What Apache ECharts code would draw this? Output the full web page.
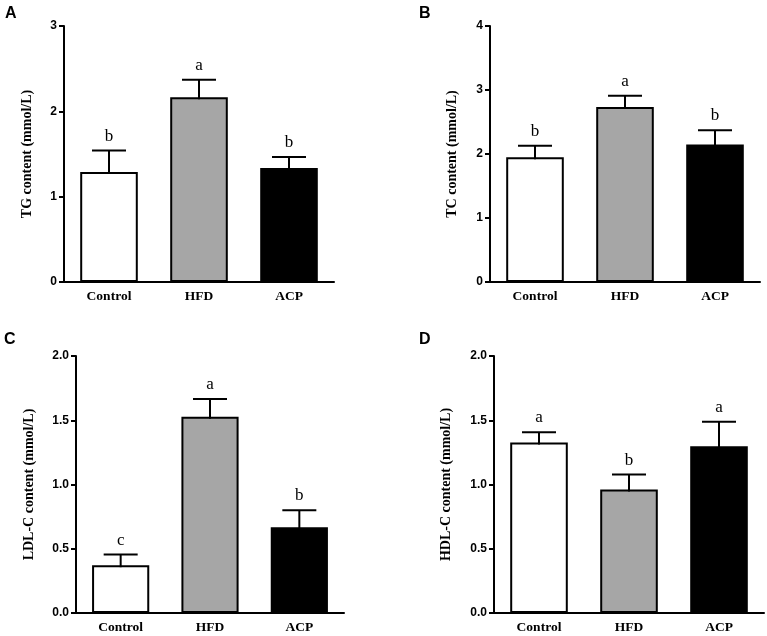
<!DOCTYPE html>
<html>
<head>
<meta charset="utf-8">
<script src="https://cdn.jsdelivr.net/npm/echarts@6/dist/echarts.min.js"></script>
<style>
html,body{margin:0;padding:0;background:#fff;}
#c{width:767px;height:636px;}
</style>
</head>
<body>
<div id="c"></div>
<script>
const categories = ['Control', 'HFD', 'ACP'];
const barColors = ['#ffffff', '#a6a6a6', '#000000'];

const tgMean = [1.29, 2.165, 1.335];
const tgErr = [0.25, 0.205, 0.13];
const tgLetters = ['b', 'a', 'b'];

const tcMean = [1.95, 2.735, 2.15];
const tcErr = [0.18, 0.175, 0.22];
const tcLetters = ['b', 'a', 'b'];

const ldlMean = [0.372, 1.527, 0.668];
const ldlErr = [0.083, 0.138, 0.132];
const ldlLetters = ['c', 'a', 'b'];

const hdlMean = [1.326, 0.962, 1.298];
const hdlErr = [0.081, 0.115, 0.19];
const hdlLetters = ['a', 'b', 'a'];

const panelTitles = ['A', 'B', 'C', 'D'];
const yNames = ['TG content (mmol/L)', 'TC content (mmol/L)', 'LDL-C content (mmol/L)', 'HDL-C content (mmol/L)'];
const yMax = [3, 4, 2, 2];
const yInterval = [1, 1, 0.5, 0.5];
const yDecimals = [0, 0, 1, 1];

const panels = [
  {mean: tgMean, err: tgErr, letters: tgLetters},
  {mean: tcMean, err: tcErr, letters: tcLetters},
  {mean: ldlMean, err: ldlErr, letters: ldlLetters},
  {mean: hdlMean, err: hdlErr, letters: hdlLetters}
];

const gridLayout = [
  {left: 64, top: 26, width: 270, height: 256},
  {left: 490, top: 26, width: 270, height: 256},
  {left: 76, top: 356, width: 268, height: 257},
  {left: 494, top: 356, width: 270, height: 257}
];
const nameGaps = [30, 31, 40, 41];
const titlePos = [[5, 6], [419, 6], [4, 332], [419, 332]];

const SANS = '"Liberation Sans", Arial, sans-serif';
const SERIF = '"Liberation Serif", "Times New Roman", serif';

const grids = [], xAxes = [], yAxes = [], series = [], titles = [];

panels.forEach((p, i) => {
  grids.push(Object.assign({containLabel: false}, gridLayout[i]));
  titles.push({
    text: panelTitles[i], left: titlePos[i][0], top: titlePos[i][1], padding: 0,
    textStyle: {fontFamily: SANS, fontWeight: 'bold', fontSize: 16, color: '#000'}
  });
  xAxes.push({
    type: 'category', gridIndex: i, data: categories,
    axisLine: {lineStyle: {color: '#000', width: 2}},
    axisTick: {alignWithLabel: true, length: 5, lineStyle: {color: '#000', width: 2}},
    axisLabel: {fontFamily: SERIF, fontWeight: 'bold', fontSize: 13.5, color: '#000', margin: 8},
    splitLine: {show: false}
  });
  yAxes.push({
    type: 'value', gridIndex: i, min: 0, max: yMax[i], interval: yInterval[i],
    name: yNames[i], nameLocation: 'middle', nameGap: nameGaps[i], nameRotate: 90,
    nameTextStyle: {fontFamily: SERIF, fontWeight: 'bold', fontSize: 14, color: '#000'},
    axisLine: {show: true, lineStyle: {color: '#000', width: 2}},
    axisTick: {show: true, length: 5, lineStyle: {color: '#000', width: 2}},
    axisLabel: {fontFamily: SANS, fontWeight: 'bold', fontSize: 12, color: '#000', margin: 7,
      formatter: v => v.toFixed(yDecimals[i])},
    splitLine: {show: false}
  });
  series.push({
    type: 'bar', xAxisIndex: i, yAxisIndex: i, barWidth: '64%',
    data: p.mean.map((v, k) => ({value: v, itemStyle: {color: barColors[k]}})),
    itemStyle: {borderColor: '#000', borderWidth: 2},
    emphasis: {disabled: true},
    z: 2
  });
  series.push({
    type: 'custom', xAxisIndex: i, yAxisIndex: i, clip: false, z: 3,
    data: p.mean.map((v, k) => [k, v, p.err[k]]),
    encode: {x: 0, y: 1},
    renderItem: function (params, api) {
      const k = api.value(0);
      const m = api.value(1);
      const e = api.value(2);
      const letter = p.letters[k];
      const base = api.coord([k, m]);
      const top = api.coord([k, m + e]);
      const half = 17;
      return {
        type: 'group',
        children: [
          {type: 'line', shape: {x1: base[0], y1: base[1] + 2, x2: top[0], y2: top[1]},
            style: {stroke: '#000', lineWidth: 2}},
          {type: 'line', shape: {x1: top[0] - half, y1: top[1], x2: top[0] + half, y2: top[1]},
            style: {stroke: '#000', lineWidth: 2}},
          {type: 'text', x: top[0], y: top[1] - 6,
            style: {text: letter, fill: '#000', font: '17px ' + SERIF, align: 'center', verticalAlign: 'bottom'}}
        ]
      };
    }
  });
});

const chart = echarts.init(document.getElementById('c'), null, {renderer: 'canvas'});
chart.setOption({
  animation: false,
  backgroundColor: '#fff',
  title: titles,
  grid: grids,
  xAxis: xAxes,
  yAxis: yAxes,
  series: series
});
</script>
</body>
</html>
